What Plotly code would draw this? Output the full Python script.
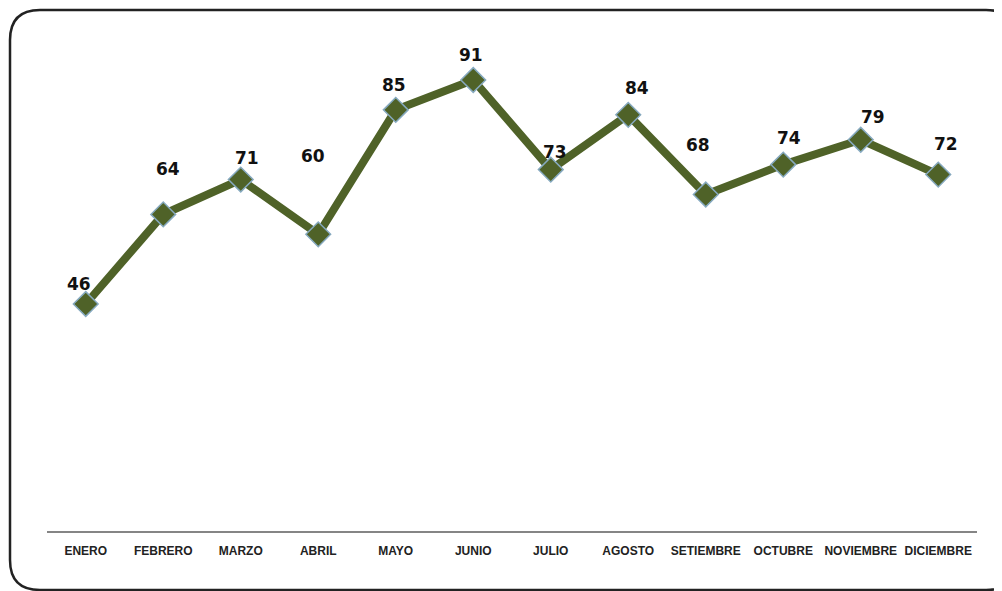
import plotly.graph_objects as go

meses = ["ENERO", "FEBRERO", "MARZO", "ABRIL", "MAYO", "JUNIO", "JULIO",
         "AGOSTO", "SETIEMBRE", "OCTUBRE", "NOVIEMBRE", "DICIEMBRE"]
valores = [46, 64, 71, 60, 85, 91, 73, 84, 68, 74, 79, 72]

# label offsets (pixels) as placed in the original
label_dx = [-7, 5, 6, -5, -2, -2, 4, 9, -8, 6, 12, 8]
label_dy = [20, 45, 22, 78, 25, 25, 18, 27, 49, 27, 23, 31]

# page has an 8px body margin, so the figure is drawn 8px in from the corner
W, H = 1002, 591
L, R, T, B = 39, 33, 25, 68
pw, ph = W - L - R, H - T - B

verde = "#4F6228"

fig = go.Figure()
fig.add_trace(go.Scatter(
    x=meses, y=valores, mode="lines+markers",
    line=dict(color=verde, width=8),
    marker=dict(symbol="diamond", size=19, color=verde,
                line=dict(color="#86a9bf", width=1.5)),
    hoverinfo="x+y", showlegend=False,
))

for m, v, dx, dy in zip(meses, valores, label_dx, label_dy):
    fig.add_annotation(x=m, y=v, text="<b>%d</b>" % v, showarrow=False,
                       xshift=dx, yshift=dy,
                       font=dict(family="DejaVu Sans", size=17, color="#111111"))


def px(x):
    return (x - L) / pw


def py(y):
    return (H - B - y) / ph


# rounded frame around the chart (pixel corners converted to paper units)
x0, y0, x1, y1, r = 2, 2, 1008, 582, 30
pts = [
    ("M", (x0 + r, y0)), ("L", (x1 - r, y0)), ("Q", (x1, y0), (x1, y0 + r)),
    ("L", (x1, y1 - r)), ("Q", (x1, y1), (x1 - r, y1)),
    ("L", (x0 + r, y1)), ("Q", (x0, y1), (x0, y1 - r)),
    ("L", (x0, y0 + r)), ("Q", (x0, y0), (x0 + r, y0)),
]
path = ""
for p in pts:
    cmd, coords = p[0], p[1:]
    path += cmd + " " + " ".join(f"{px(a):.5f},{py(b):.5f}" for a, b in coords) + " "
path += "Z"
fig.add_shape(type="path", path=path, xref="paper", yref="paper",
              line=dict(color="#222222", width=2.5), layer="above")

fig.update_layout(
    width=W, height=H,
    margin=dict(l=L, r=R, t=T, b=B, autoexpand=False),
    plot_bgcolor="white", paper_bgcolor="white",
    font=dict(family="Liberation Sans"),
)
fig.update_xaxes(
    range=[-0.5, 11.5],
    showgrid=False, showline=True, linecolor="#858585", linewidth=2,
    ticks="", ticklabelstandoff=8,
    tickfont=dict(family="Liberation Sans", size=12, color="#222222"),
    tickprefix="<b>", ticksuffix="</b>",
)
fig.update_yaxes(range=[0.4, 100.44], visible=False, showgrid=False, zeroline=False)

fig.write_html("out.html")
